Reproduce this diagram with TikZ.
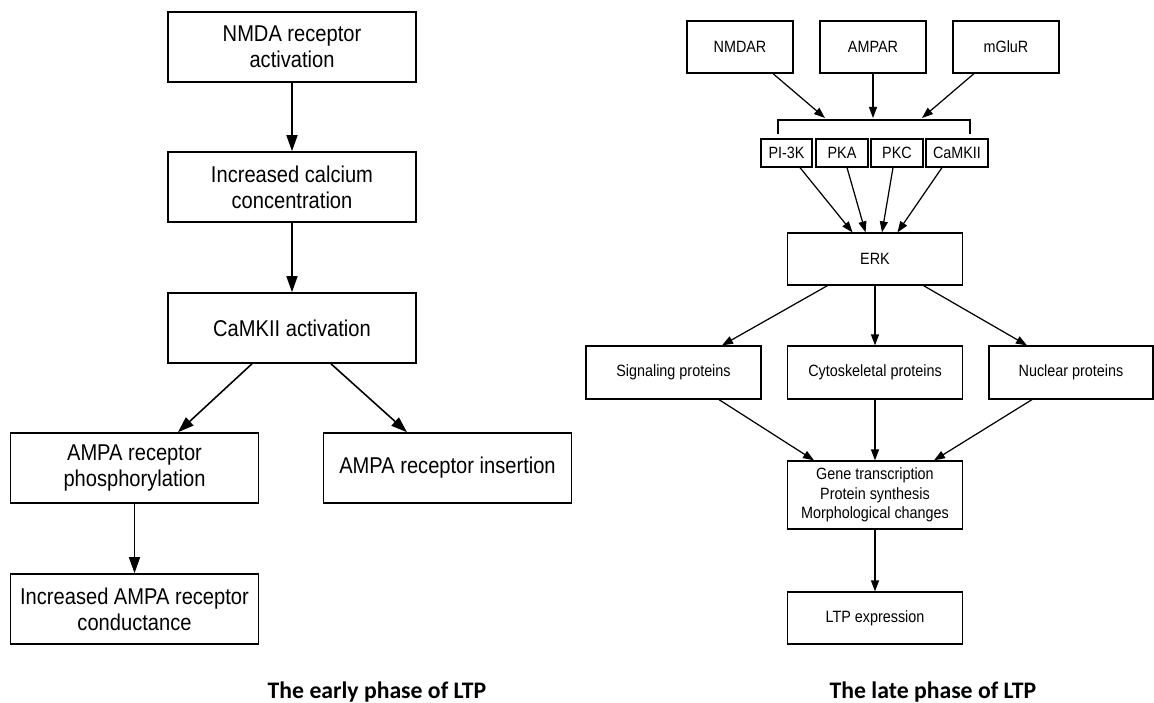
\documentclass[tikz,border=0pt]{standalone}
\usepackage{fontspec}
\setmainfont{Liberation Sans}
\newfontfamily\boxfont[FakeStretch=0.88]{Liberation Sans}
\newfontfamily\capfont{Carlito}
\usepackage{tikz}
\usetikzlibrary{arrows.meta}
\newcommand{\bigfont}{\boxfont\fontsize{13}{14.8}\selectfont}
\newcommand{\smallfont}{\boxfont\fontsize{9.3}{11}\selectfont}

\begin{document}
\begin{tikzpicture}[
    bigbox/.style={draw,line width=0.9pt,align=center,font=\bigfont,minimum width=4.96cm,minimum height=1.4cm,inner sep=2pt},
    medbox/.style={draw,line width=0.7pt,align=center,font=\smallfont,minimum width=3.5cm,minimum height=1.04cm,inner sep=2pt},
    kbox/.style={draw,line width=0.7pt,font=\smallfont,minimum height=0.56cm,inner sep=1pt},
    bigarr/.style={-{Triangle[length=0.32cm,width=0.22cm]},line width=0.9pt},
    smallarr/.style={-{Triangle[length=0.22cm,width=0.16cm]},line width=0.7pt},
    capt/.style={font=\capfont\bfseries\fontsize{13.5}{16}\selectfont}]
      \useasboundingbox (0,0) rectangle (23.08,-14.06);
      \node[bigbox] (nmda) at (5.84,-0.94) {NMDA receptor\\activation};
      \node[bigbox] (calc) at (5.84,-3.74) {Increased calcium\\concentration};
      \node[bigbox] (camk) at (5.84,-6.56) {CaMKII activation};
      \node[bigbox] (phos) at (2.69,-9.36) {AMPA receptor\\phosphorylation};
      \node[bigbox] (ins) at (8.95,-9.36) {AMPA receptor insertion};
      \node[bigbox] (cond) at (2.69,-12.18) {Increased AMPA receptor\\conductance};
      \draw[bigarr] (nmda) -- (calc);
      \draw[bigarr] (calc) -- (camk);
      \draw[bigarr] ([xshift=-0.8cm]camk.south) -- ([xshift=0.87cm]phos.north);
      \draw[bigarr] ([xshift=0.78cm]camk.south) -- ([xshift=-0.81cm]ins.north);
      \draw[bigarr] (phos) -- (cond);
      \node[capt] (early) at (7.54,-13.84) {The early phase of LTP};

      \foreach \n/\x/\t in {nmdar/14.8/NMDAR, ampar/17.46/AMPAR, mglur/20.12/mGluR}{
      \node[medbox,minimum width=2.12cm] (\n) at (\x,-0.94) {\t};
      }
      \coordinate (bra) at (15.56,-2.4);
      \coordinate (brb) at (19.4,-2.4);
      \draw[line width=0.7pt] ([yshift=-0.28cm]bra) -- (bra) -- (brb) -- ([yshift=-0.28cm]brb);
      \coordinate (in1) at (16.5,-2.36);
      \coordinate (in2) at (17.46,-2.36);
      \coordinate (in3) at (18.44,-2.36);
      \draw[smallarr] ([xshift=0.66cm]nmdar.south) -- (in1);
      \draw[smallarr] (ampar) -- (in2);
      \draw[smallarr] ([xshift=-0.64cm]mglur.south) -- (in3);
      \foreach \n/\x/\w/\t in {pik/15.73/1.02/PI-3K, pka/16.84/1.04/PKA, pkc/17.94/1.04/PKC, cam/19.14/1.24/CaMKII}{
      \node[kbox,minimum width=\w cm] (\n) at (\x,-3.06) {\t};
      }
      \node[medbox] (erk) at (17.5,-5.18) {ERK};
      \draw[smallarr] ([xshift=0.27cm]pik.south) -- ([xshift=-0.45cm]erk.north);
      \draw[smallarr] ([xshift=0.1cm]pka.south) -- ([xshift=-0.19cm]erk.north);
      \draw[smallarr] ([xshift=-0.08cm]pkc.south) -- ([xshift=0.14cm]erk.north);
      \draw[smallarr] ([xshift=-0.3cm]cam.south) -- ([xshift=0.45cm]erk.north);
      \node[medbox,minimum height=1.06cm] (sig) at (13.47,-7.45) {Signaling proteins};
      \node[medbox,minimum height=1.06cm] (cyto) at (17.5,-7.45) {Cytoskeletal proteins};
      \node[medbox,minimum height=1.06cm,minimum width=3.28cm] (nuc) at (21.42,-7.45) {Nuclear proteins};
      \draw[smallarr] ([xshift=-0.95cm]erk.south) -- ([xshift=0.97cm]sig.north);
      \draw[smallarr] (erk) -- (cyto);
      \draw[smallarr] ([xshift=0.97cm]erk.south) -- ([xshift=-0.88cm]nuc.north);
      \node[medbox,minimum height=1.36cm] (gene) at (17.5,-9.9) {Gene transcription\\Protein synthesis\\Morphological changes};
      \draw[smallarr] ([xshift=0.91cm]sig.south) -- ([xshift=-1.22cm]gene.north);
      \draw[smallarr] (cyto) -- (gene);
      \draw[smallarr] ([xshift=-0.78cm]nuc.south) -- ([xshift=1.18cm]gene.north);
      \node[medbox] (ltp) at (17.5,-12.36) {LTP expression};
      \draw[smallarr] (gene) -- (ltp);
      \node[capt] (late) at (18.66,-13.84) {The late phase of LTP};
\end{tikzpicture}
\end{document}
